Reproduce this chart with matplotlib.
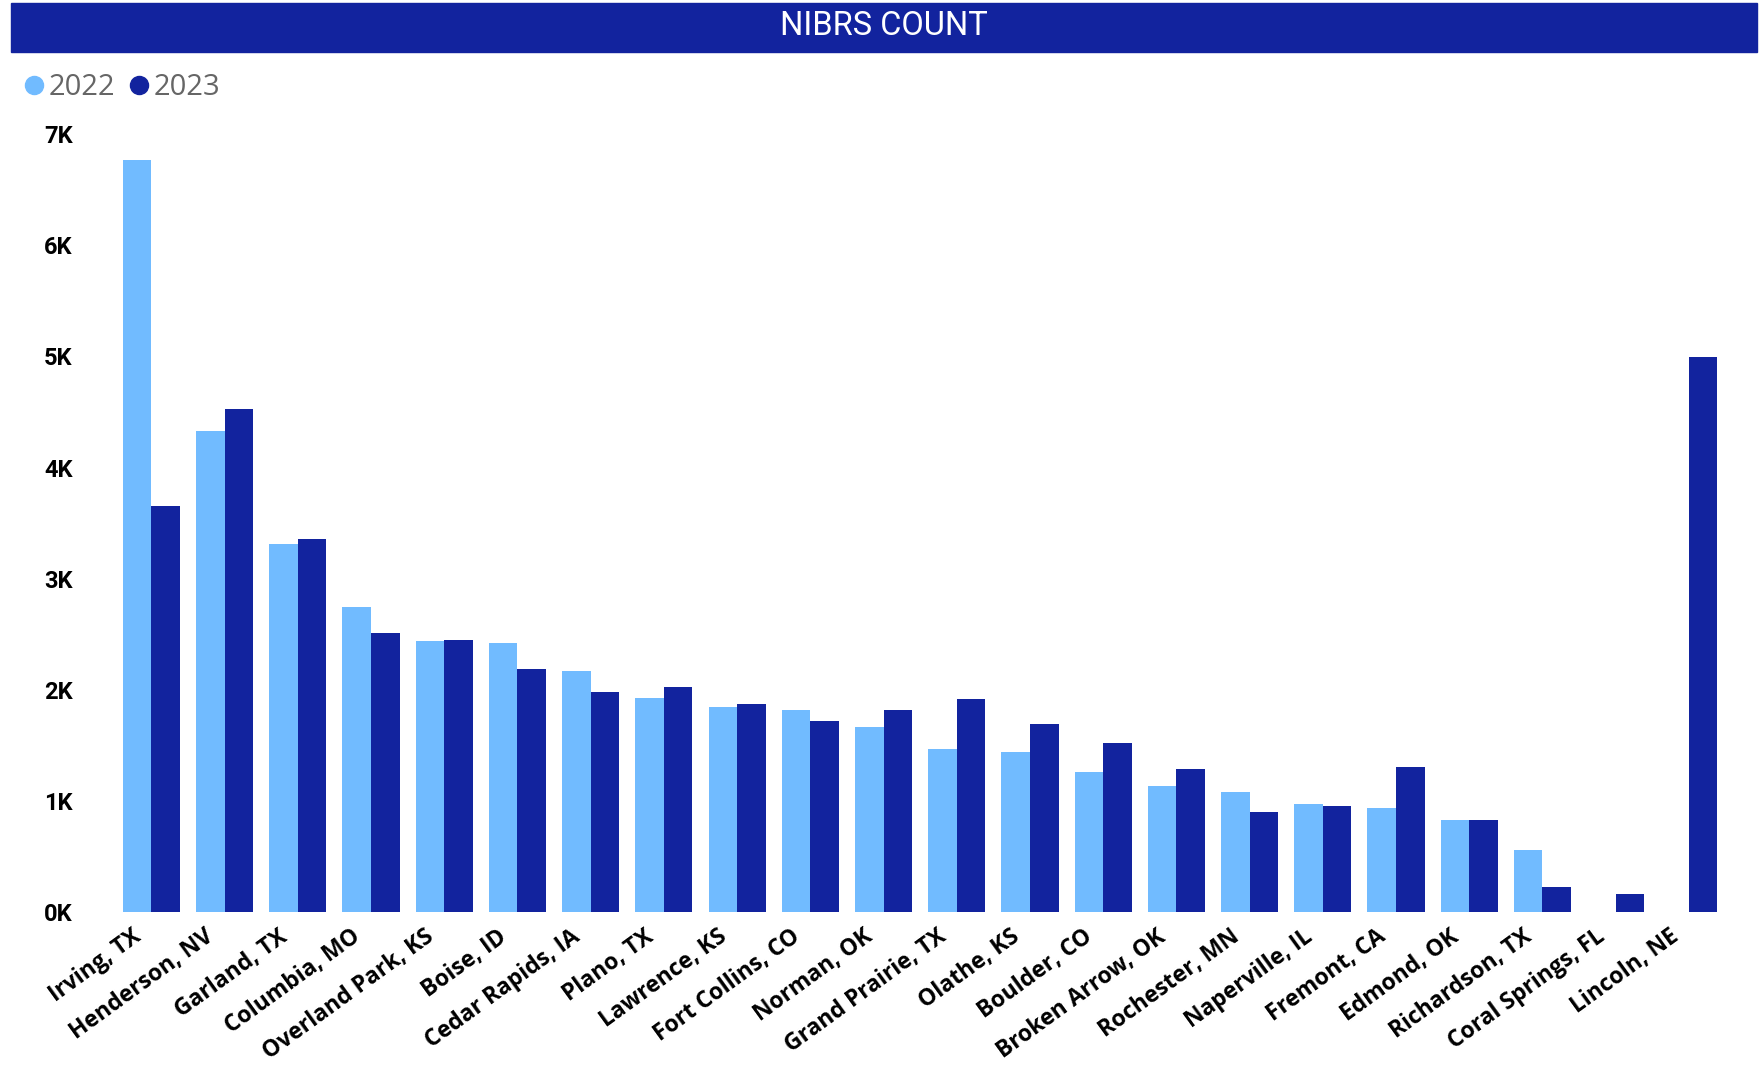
import matplotlib
matplotlib.use("Agg")
import matplotlib.pyplot as plt
import matplotlib.transforms as mtransforms
from matplotlib.lines import Line2D
from matplotlib.patches import Rectangle
import numpy as np

cities = ["Irving, TX", "Henderson, NV", "Garland, TX", "Columbia, MO", "Overland Park, KS",
          "Boise, ID", "Cedar Rapids, IA", "Plano, TX", "Lawrence, KS", "Fort Collins, CO",
          "Norman, OK", "Grand Prairie, TX", "Olathe, KS", "Boulder, CO", "Broken Arrow, OK",
          "Rochester, MN", "Naperville, IL", "Fremont, CA", "Edmond, OK", "Richardson, TX",
          "Coral Springs, FL", "Lincoln, NE"]
count_2022 = [6770, 4330, 3310, 2750, 2440, 2420, 2170, 1930, 1850, 1820,
              1670, 1470, 1440, 1260, 1140, 1080, 970, 940, 830, 560, 0, 0]
count_2023 = [3650, 4530, 3360, 2510, 2450, 2190, 1980, 2030, 1870, 1720,
              1820, 1920, 1690, 1520, 1290, 900, 960, 1310, 830, 230, 160, 4990]
y_ticks = [0, 1000, 2000, 3000, 4000, 5000, 6000, 7000]

LIGHT = "#71BBFF"
DARK = "#12239E"

fig = plt.figure(figsize=(17.61, 10.72), dpi=100)
ax = fig.add_axes([0.061, 0.149, 0.923, 0.726])

x = np.arange(len(cities))
w = 0.39
ax.bar(x - w / 2, count_2022, width=w, color=LIGHT)
ax.bar(x + w / 2, count_2023, width=w, color=DARK)

ax.set_xlim(-0.6, len(cities) - 0.4)
ax.set_ylim(0, 7000)
ax.set_yticks(y_ticks)
ax.set_yticklabels([f"{v // 1000}K" for v in y_ticks], fontsize=17, fontweight="bold",
                   family="Roboto")
ax.set_xticks(x)
ax.set_xticklabels(cities, rotation=36, ha="right", va="center", rotation_mode="anchor",
                   fontsize=16.5, fontweight="bold", family="Open Sans")
ax.tick_params(axis="both", length=0)
ax.tick_params(axis="y", pad=25)
ax.tick_params(axis="x", pad=16)
# nudge the city labels a little to the left
shift = mtransforms.ScaledTranslation(-0.13, 0, fig.dpi_scale_trans)
for lbl in ax.get_xticklabels():
    lbl.set_transform(lbl.get_transform() + shift)
for s in ax.spines.values():
    s.set_visible(False)

# title bar
fig.patches.append(Rectangle((0.006, 0.9515), 0.992, 0.0455, transform=fig.transFigure,
                             color=DARK, zorder=0))
fig.text(0.502, 0.976, "NIBRS COUNT", color="white", fontsize=23.5, ha="center", va="center",
         family="Roboto")

handles = [Line2D([], [], marker="o", linestyle="", color=LIGHT, markersize=13),
           Line2D([], [], marker="o", linestyle="", color=DARK, markersize=13)]
fig.legend(handles, ["2022", "2023"], loc="center left", bbox_to_anchor=(0.0045, 0.918),
           ncol=2, frameon=False, labelcolor="#666666", handletextpad=0.0,
           borderaxespad=0, columnspacing=0.3, handlelength=1.0,
           prop={"family": "Open Sans", "size": 21})

fig.savefig("out.png", dpi=100)
